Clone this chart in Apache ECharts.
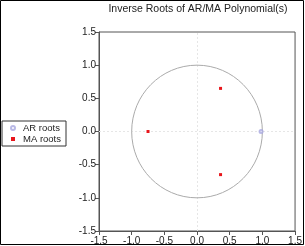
<!DOCTYPE html>
<html>
<head>
<meta charset="utf-8">
<script src="https://cdn.jsdelivr.net/npm/echarts@6/dist/echarts.min.js"></script>
<style>
html,body{margin:0;padding:0;background:#fff;}
#chart{width:305px;height:246px;}
</style>
</head>
<body>
<div id="chart"></div>
<script>
var titleText = 'Inverse Roots of AR/MA Polynomial(s)';
var axisTicks = [-1.5, -1.0, -0.5, 0.0, 0.5, 1.0, 1.5];
var arRoots = [[0.98, 0.0]];
var maRoots = [[0.36, 0.65], [0.36, -0.65], [-0.75, 0.0]];
var unitCircle = [[0, 0, 1]];

var chart = echarts.init(document.getElementById('chart'));
var font = 'Liberation Sans, Arial, sans-serif';

function axisCfg(margin){
    return {
        type: 'value',
        min: axisTicks[0],
        max: axisTicks[axisTicks.length - 1],
        interval: 0.5,
        axisLine: {show: true, onZero: false, lineStyle: {color: '#555', width: 1}},
        axisTick: {show: true, length: 4, lineStyle: {color: '#555'}},
        axisLabel: {
            fontSize: 10, color: '#222', fontFamily: font, margin: margin,
            formatter: function(v){ return v.toFixed(1); }
        },
        splitLine: {show: false}
    };
}

var option = {
    animation: false,
    grid: {
        left: 99, top: 32, width: 198, height: 199,
        show: true, borderColor: '#555', borderWidth: 1, backgroundColor: 'transparent'
    },
    xAxis: axisCfg(5),
    yAxis: axisCfg(3),
    legend: {
        orient: 'vertical',
        left: 2, top: 121,
        padding: [2, 5, 2, 8],
        itemWidth: 4, itemHeight: 4, itemGap: 1,
        borderColor: '#333', borderWidth: 1,
        textStyle: {fontSize: 9.5, color: '#222', fontFamily: font, padding: [0, 0, 0, 3]},
        data: ['AR roots', 'MA roots']
    },
    graphic: [
        {type: 'rect', shape: {x: 0.5, y: 0.5, width: 303, height: 244}, style: {fill: 'none', stroke: '#000', lineWidth: 1}, silent: true},
        {type: 'text', x: 198, y: 9, style: {text: titleText, fontSize: 10.5, fill: '#222', fontFamily: font, textAlign: 'center', textVerticalAlign: 'middle'}}
    ],
    series: [
        {
            type: 'custom',
            silent: true,
            data: unitCircle,
            renderItem: function(params, api){
                var c = api.coord([api.value(0), api.value(1)]);
                var s = api.size([api.value(2), api.value(2)]);
                return {
                    type: 'group',
                    children: [{
                        type: 'ellipse',
                        shape: {cx: c[0], cy: c[1], rx: s[0], ry: s[1]},
                        style: {fill: 'none', stroke: '#aaa', lineWidth: 1}
                    }]
                };
            },
            markLine: {
                silent: true, symbol: 'none', label: {show: false}, z: 1,
                lineStyle: {color: '#e6e6e6', type: [2, 2], width: 1},
                data: [{xAxis: 0}, {yAxis: 0}]
            },
            z: 1
        },
        {
            name: 'AR roots',
            type: 'scatter',
            symbol: 'emptyCircle',
            symbolSize: 3,
            itemStyle: {color: '#a8a8e0', borderWidth: 0.8},
            emphasis: {disabled: true},
            data: arRoots,
            z: 3
        },
        {
            name: 'MA roots',
            type: 'scatter',
            symbol: 'rect',
            symbolSize: 3,
            itemStyle: {color: '#e8151b', opacity: 1},
            emphasis: {disabled: true},
            data: maRoots,
            z: 3
        }
    ]
};
chart.setOption(option);
</script>
</body>
</html>
